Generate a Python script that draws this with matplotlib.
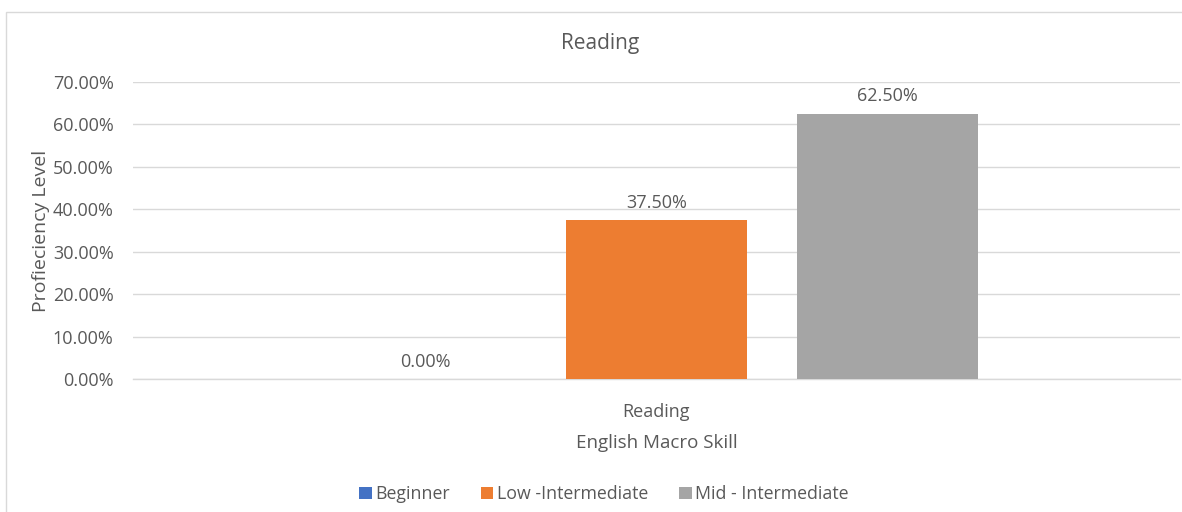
import matplotlib
matplotlib.use("Agg")
import matplotlib.pyplot as plt
from matplotlib.patches import Rectangle
from matplotlib.ticker import PercentFormatter

# Data
categories = ["Reading"]
series_names = ["Beginner", "Low -Intermediate", "Mid - Intermediate"]
series_values = [0.0, 37.5, 62.5]  # percent
series_colors = ["#4472C4", "#ED7D31", "#A5A5A5"]
y_ticks = [0, 10, 20, 30, 40, 50, 60, 70]

TEXT = "#595959"
GRID = "#D9D9D9"
plt.rcParams["font.family"] = ["Open Sans", "DejaVu Sans"]

fig = plt.figure(figsize=(11.82, 5.12), dpi=100)
ax = fig.add_axes([133 / 1182, 1 - 379 / 512, (1180 - 133) / 1182, (379 - 82) / 512])

# chart border
fig.patches.append(Rectangle((6 / 1182, -0.1), 1.2, 1 - 12 / 512 + 0.1,
                             transform=fig.transFigure, fill=False,
                             edgecolor=GRID, linewidth=1.0, zorder=0))

bar_width = 0.1729
spacing = 0.2206
handles = []
for i, (name, val, col) in enumerate(zip(series_names, series_values, series_colors)):
    x = 0 + (i - 1) * spacing
    b = ax.bar(x, val, width=bar_width, color=col, label=name, zorder=3)
    handles.append(b)
    ax.annotate(f"{val:.2f}%", (x, val), xytext=(0, 6), textcoords="offset points",
                ha="center", va="bottom", fontsize=13, color=TEXT)

ax.set_xlim(-0.5, 0.5)
ax.set_ylim(0, 70)
ax.set_yticks(y_ticks)
ax.yaxis.set_major_formatter(PercentFormatter(decimals=2))
ax.set_xticks([0])
ax.set_xticklabels(categories)
ax.grid(axis="y", color=GRID, linewidth=1.0, zorder=0)
ax.axhline(0, color=GRID, linewidth=1.0, zorder=1, clip_on=False)
ax.tick_params(axis="both", length=0, labelsize=13, labelcolor=TEXT)
ax.tick_params(axis="x", pad=17)
ax.tick_params(axis="y", pad=14)
for s in ax.spines.values():
    s.set_visible(False)

ax.set_xlabel("English Macro Skill", fontsize=13.5, color=TEXT, labelpad=10)
ax.set_ylabel("Profieciency Level", fontsize=14, color=TEXT, labelpad=2)
fig.text(600 / 1182, 1 - 44 / 512, "Reading", fontsize=15, color=TEXT,
         ha="center", va="center")

fig.legend(handles=handles, labels=series_names, loc="center", ncol=3,
           bbox_to_anchor=(604 / 1182, 1 - 494 / 512), frameon=False,
           fontsize=12.8, labelcolor=TEXT, handlelength=0.7, handleheight=0.7,
           handletextpad=0.2, columnspacing=1.75)

fig.savefig("out.png", dpi=100, facecolor="white")
